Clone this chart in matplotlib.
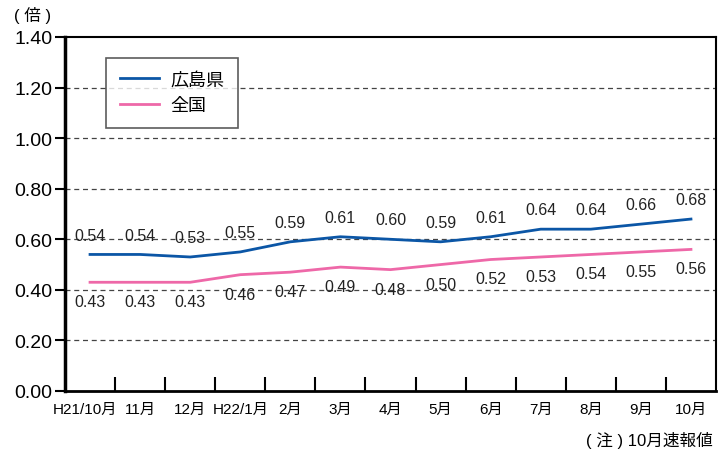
import numpy as np
import matplotlib.pyplot as plt
import matplotlib.transforms as mtransforms

plt.rcParams['font.family'] = ['Liberation Sans', 'Noto Sans CJK JP']

months = ['H21/10月', '11月', '12月', 'H22/1月', '2月', '3月', '4月',
          '5月', '6月', '7月', '8月', '9月', '10月']
hiroshima = [0.54, 0.54, 0.53, 0.55, 0.59, 0.61, 0.60, 0.59, 0.61, 0.64, 0.64, 0.66, 0.68]
zenkoku = [0.43, 0.43, 0.43, 0.46, 0.47, 0.49, 0.48, 0.50, 0.52, 0.53, 0.54, 0.55, 0.56]
yticks = [0.0, 0.2, 0.4, 0.6, 0.8, 1.0, 1.2, 1.4]

blue = '#0b56a6'
pink = '#ee68a8'

fig = plt.figure(figsize=(7.25, 4.52), dpi=100)
ax = fig.add_axes([65 / 725, 60 / 452, 651 / 725, 354 / 452])

x = np.arange(len(months))
ax.plot(x, hiroshima, color=blue, lw=2, label='広島県', zorder=3)
ax.plot(x, zenkoku, color=pink, lw=2, label='全国', zorder=3)

for xi, v in zip(x, hiroshima):
    ax.annotate(f'{v:.2f}', (xi, v), xytext=(0, 14), textcoords='offset points',
                ha='center', va='center', fontsize=11.5, color='#222222')
for xi, v in zip(x, zenkoku):
    ax.annotate(f'{v:.2f}', (xi, v), xytext=(0, -14), textcoords='offset points',
                ha='center', va='center', fontsize=11.5, color='#222222')

ax.set_xlim(-0.5, len(months) - 0.5)
ax.set_ylim(0, 1.4)
ax.set_yticks(yticks)
ax.set_yticklabels([f'{t:.2f}' for t in yticks], fontsize=14)
ax.tick_params(axis='y', direction='out', length=7, width=1.5, pad=2)

# category labels centred, tick marks on the boundaries
ax.set_xticks(x[:-1] + 0.5)
ax.set_xticklabels([])
ax.set_xticks(x, minor=True)
ax.set_xticklabels(months, minor=True, fontsize=11)
ax.tick_params(axis='x', which='major', direction='in', length=10, width=1.5)
ax.tick_params(axis='x', which='minor', length=0, pad=8)
# nudge the long first label left so it clears "11月"
first = ax.get_xticklabels(minor=True)[0]
first.set_transform(first.get_transform() +
                    mtransforms.ScaledTranslation(-5 / 100, 0, fig.dpi_scale_trans))

for t in yticks[1:-1]:
    ax.axhline(t, color='#444444', lw=0.9, ls=(0, (4, 3)), zorder=1)

for side in ['top', 'right']:
    ax.spines[side].set_linewidth(1.5)
ax.spines['left'].set_linewidth(2.5)
ax.spines['bottom'].set_linewidth(2)

leg = ax.legend(loc='upper left', bbox_to_anchor=(0.063, 0.941), fontsize=13,
                frameon=True, fancybox=False, edgecolor='#333333',
                borderpad=0.75, handlelength=2.2, handletextpad=0.6,
                labelspacing=0.5, borderaxespad=0)
leg.get_frame().set_linewidth(1.2)

fig.text(14 / 725, 1 - 16 / 452, '( 倍 )', fontsize=12, va='center')
fig.text(713 / 725, 1 - 440 / 452, '( 注 ) 10月速報値', fontsize=12,
         ha='right', va='center')

plt.savefig('out.png', dpi=100)
